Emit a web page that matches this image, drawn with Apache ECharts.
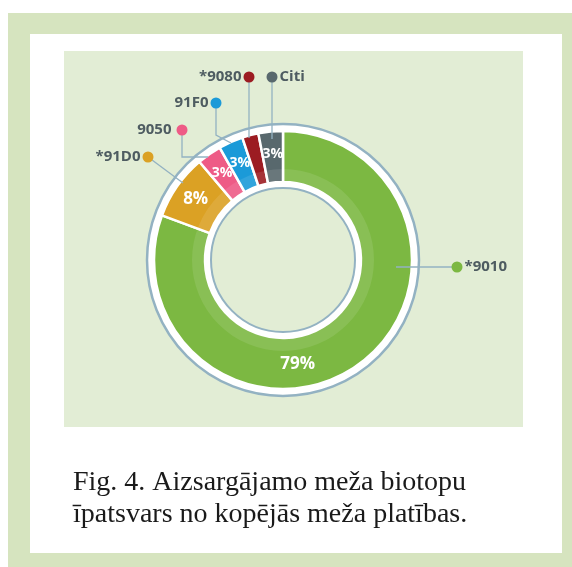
<!DOCTYPE html>
<html><head><meta charset="utf-8">
<script src="https://cdn.jsdelivr.net/npm/echarts@6/dist/echarts.min.js"></script>
<style>html,body{margin:0;padding:0;background:#fff}#c{width:572px;height:567px}</style>
</head><body><div id="c"></div>
<script>
// ---- data ----
const categories = ['*9010', '*91D0', '9050', '91F0', '*9080', 'Citi'];
const shares = [79, 8, 3, 3, 2, 3];
const percentLabels = ['79%', '8%', '3%', '3%', '', '3%'];
const colors = ['#7cb842', '#dba124', '#ee5b86', '#1b9ad8', '#9c1c22', '#58686d'];
const captionLines = ['Fig. 4. Aizsargājamo meža biotopu', 'īpatsvars no kopējās meža platības.'];

// ---- layout ----
const CX = 283, CY = 260;
const calloutLayout = [
  { dot: [457, 267], text: 'right', line: [[396, 267], [396, 267]] },
  { dot: [148, 157], text: 'left', line: [[183, 183], [183, 183]] },
  { dot: [182, 130], text: 'left', line: [[182, 157], [208, 157]] },
  { dot: [216, 103], text: 'left', line: [[216, 135], [231, 143]] },
  { dot: [249, 77], text: 'left', line: [[249, 138], [249, 138]] },
  { dot: [272, 77], text: 'right', line: [[272, 139], [272, 139]] }
];
const lineColor = '#93b2c2';

const chart = echarts.init(document.getElementById('c'), null, { renderer: 'canvas' });

const noFx = { silent: true, emphasis: { disabled: true }, animation: false };

const calloutData = categories.map((name, i) => {
  const L = calloutLayout[i];
  const fmt = L.text === 'left' ? '{t|' + name + '}{g| }{d| }' : '{d| }{g| }{t|' + name + '}';
  return {
    name, value: shares[i],
    label: {
      formatter: fmt,
      rich: {
        t: { fontFamily: 'Open Sans', fontWeight: 'bold', fontSize: 15, color: '#4e5c61', verticalAlign: 'middle' },
        g: { width: i === 2 ? 5 : 2, verticalAlign: 'middle' },
        d: { width: 11, height: 11, borderRadius: 6, backgroundColor: colors[i], verticalAlign: 'middle' }
      }
    }
  };
});

const option = {
  animation: false,
  graphic: [
    { type: 'rect', z: -10, shape: { x: 8, y: 13, width: 564, height: 554 }, style: { fill: '#d6e4bf' } },
    { type: 'rect', z: -9, shape: { x: 30, y: 34, width: 532, height: 519 }, style: { fill: '#ffffff' } },
    { type: 'rect', z: -8, shape: { x: 64, y: 51, width: 459, height: 376 }, style: { fill: '#e2edd5' } }
  ],
  title: {
    text: captionLines.join('\n'),
    left: 68, top: 462,
    textStyle: { fontFamily: 'Liberation Serif', fontWeight: 'normal', fontSize: 28, lineHeight: 32, color: '#1a1a1a' }
  },
  series: [
    Object.assign({
      type: 'pie', center: [CX, CY], radius: [0, 136], z: 1,
      label: { show: false }, labelLine: { show: false },
      itemStyle: { color: '#ffffff', borderColor: lineColor, borderWidth: 2.5 },
      data: [{ value: 1, name: 'bg' }]
    }, noFx),
    Object.assign({
      type: 'pie', center: [CX, CY], radius: [78, 129], startAngle: 90, clockwise: true, z: 2,
      label: { show: false }, labelLine: { show: false },
      itemStyle: { borderColor: '#ffffff', borderWidth: 2.5 },
      data: categories.map((name, i) => ({ name, value: shares[i], itemStyle: { color: colors[i] } }))
    }, noFx),
    Object.assign({
      type: 'pie', center: [CX, CY], radius: [78, 91], z: 3,
      label: { show: false }, labelLine: { show: false },
      itemStyle: { color: 'rgba(255,255,255,0.1)' },
      data: [{ value: 1, name: 'band' }]
    }, noFx),
    Object.assign({
      type: 'pie', center: [CX, CY], radius: [0, 72], z: 4,
      label: { show: false }, labelLine: { show: false },
      itemStyle: { color: '#e2edd5', borderColor: lineColor, borderWidth: 2 },
      data: [{ value: 1, name: 'hole' }]
    }, noFx),
    Object.assign({
      type: 'pie', center: [CX, CY], radius: [78, 129], startAngle: 90, clockwise: true, z: 5,
      itemStyle: { color: 'rgba(0,0,0,0)' },
      label: {
        show: true, position: 'inside',
        fontFamily: 'Open Sans', fontWeight: 'bold', color: '#ffffff',
        formatter: p => percentLabels[p.dataIndex]
      },
      labelLine: { show: false },
      labelLayout: function (p) {
        if (p.dataIndex === 0) {
          const a = 172 * Math.PI / 180, r = 105;
          return { x: CX + r * Math.sin(a), y: CY - r * Math.cos(a), align: 'center', verticalAlign: 'middle' };
        }
        return {};
      },
      data: categories.map((name, i) => ({
        name, value: shares[i],
        label: { show: percentLabels[i] !== '', fontSize: shares[i] >= 5 ? 17 : 14 }
      }))
    }, noFx),
    Object.assign({
      type: 'pie', center: [CX, CY], radius: [78, 129], startAngle: 90, clockwise: true, z: 6,
      itemStyle: { color: 'rgba(0,0,0,0)' },
      avoidLabelOverlap: false,
      label: { show: true, position: 'outside' },
      labelLine: { show: true, length: 10, length2: 10, smooth: false, lineStyle: { color: lineColor, width: 1.3 } },
      labelLayout: function (p) {
        const L = calloutLayout[p.dataIndex];
        const dx = L.dot[0], dy = L.dot[1];
        return {
          x: L.text === 'left' ? dx + 5.5 : dx - 5.5,
          y: dy,
          align: L.text === 'left' ? 'right' : 'left',
          verticalAlign: 'middle',
          labelLinePoints: [[dx, dy]].concat(L.line)
        };
      },
      data: calloutData
    }, noFx)
  ]
};
chart.setOption(option);
</script>
</body></html>
